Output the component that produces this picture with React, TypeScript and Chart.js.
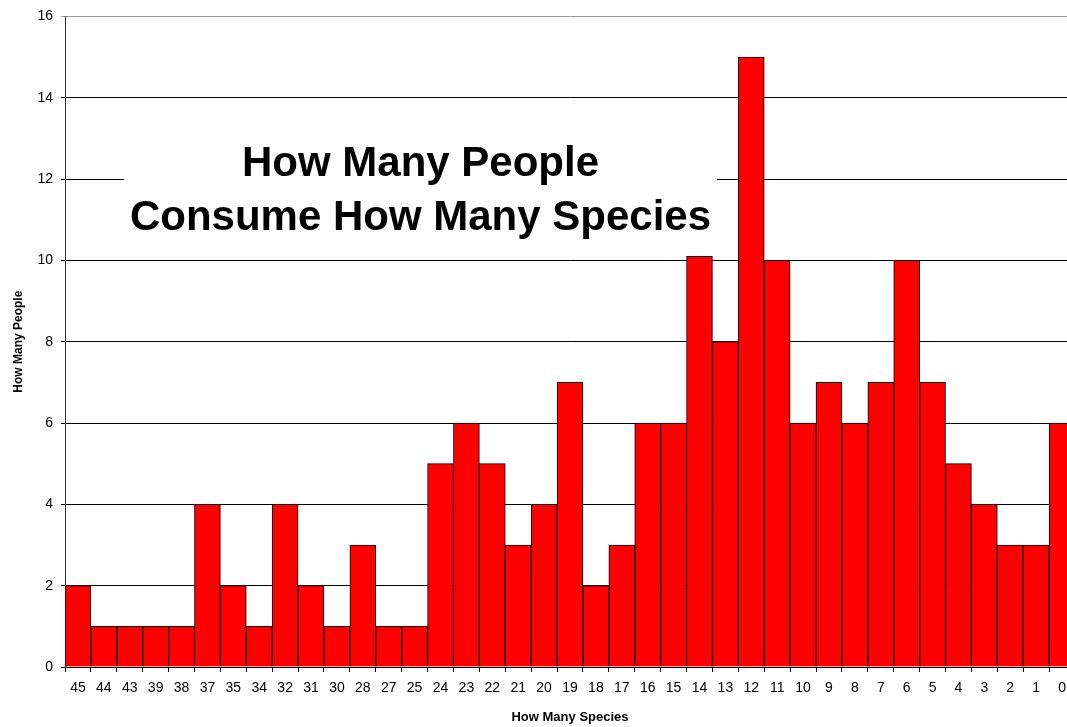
import React, { useEffect, useRef } from "react";
import { Chart, registerables } from "chart.js";

Chart.register(...registerables);

const categories = ["45","44","43","39","38","37","35","34","32","31","30","28","27","25","24","23","22","21","20","19","18","17","16","15","14","13","12","11","10","9","8","7","6","5","4","3","2","1","0"];
const peopleCounts = [2,1,1,1,1,4,2,1,4,2,1,3,1,1,5,6,5,3,4,7,2,3,6,6,10.1,8,15,10,6,7,6,7,10,7,5,4,3,3,6];
const titleLines = ["How Many People", "Consume How Many Species"];
const xAxisTitle = "How Many Species";
const yAxisTitle = "How Many People";

const FONT = "'Liberation Sans', Arial, sans-serif";

const titlePlugin = {
  id: "innerTitle",
  beforeDatasetsDraw(chart: any) {
    const { ctx, chartArea } = chart;
    const left = chartArea.left + 59;
    const right = chartArea.left + 652;
    const top = chartArea.top + 100;
    const bottom = chartArea.top + 228;
    ctx.save();
    ctx.fillStyle = "#ffffff";
    ctx.fillRect(left, top, right - left, bottom - top);
    ctx.fillStyle = "#000000";
    ctx.font = `bold 42px ${FONT}`;
    ctx.textAlign = "center";
    ctx.textBaseline = "middle";
    const cx = (left + right) / 2;
    ctx.fillText(titleLines[0], cx, chartArea.top + 148);
    ctx.fillText(titleLines[1], cx, chartArea.top + 202);
    ctx.restore();
  },
};

export default function App() {
  const canvasRef = useRef<HTMLCanvasElement | null>(null);

  useEffect(() => {
    if (!canvasRef.current) return;
    const chart = new Chart(canvasRef.current, {
      type: "bar",
      data: {
        labels: categories,
        datasets: [
          {
            data: peopleCounts,
            backgroundColor: "#ff0000",
            borderColor: "#000000",
            borderWidth: 1,
            categoryPercentage: 1,
            barPercentage: 1,
          },
        ],
      },
      options: {
        responsive: false,
        animation: false,
        layout: { padding: { top: 16, right: 3, left: 0, bottom: 0 } },
        plugins: {
          legend: { display: false },
          tooltip: { enabled: false },
          title: { display: false },
        },
        scales: {
          x: {
            grid: {
              display: true,
              drawOnChartArea: false,
              drawTicks: true,
              tickLength: 5,
              color: "#000000",
              offset: true,
            },
            border: { display: true, color: "#000000", width: 1 },
            ticks: {
              color: "#000000",
              font: { family: FONT, size: 14 },
              padding: 8,
              maxRotation: 0,
              autoSkip: false,
            },
            title: {
              display: true,
              text: xAxisTitle,
              color: "#000000",
              font: { family: FONT, size: 13, weight: "bold" },
              padding: { top: 0, bottom: 2 },
            },
            afterFit(scale: any) {
              scale.height = 60;
            },
          },
          y: {
            min: 0,
            max: 16,
            grid: {
              color: (ctx: any) => (ctx.tick && ctx.tick.value === 16 ? "#999999" : "#000000"),
              lineWidth: 1,
              drawTicks: true,
              tickLength: 4,
            },
            border: { display: true, color: "#333333", width: 1 },
            ticks: {
              stepSize: 2,
              color: "#000000",
              font: { family: FONT, size: 14 },
              padding: 8,
            },
            title: {
              display: true,
              text: yAxisTitle,
              color: "#000000",
              font: { family: FONT, size: 12, weight: "bold" },
              padding: { top: 11, bottom: 0 },
            },
            afterFit(scale: any) {
              scale.width = 65;
            },
          },
        },
      },
      plugins: [titlePlugin],
    });
    return () => chart.destroy();
  }, []);

  return (
    <div style={{ position: "absolute", left: 0, top: 0, width: 1067, height: 727, overflow: "hidden", background: "#ffffff" }}>
      <canvas ref={canvasRef} width={1078} height={727} style={{ width: 1078, height: 727, display: "block" }} />
    </div>
  );
}
